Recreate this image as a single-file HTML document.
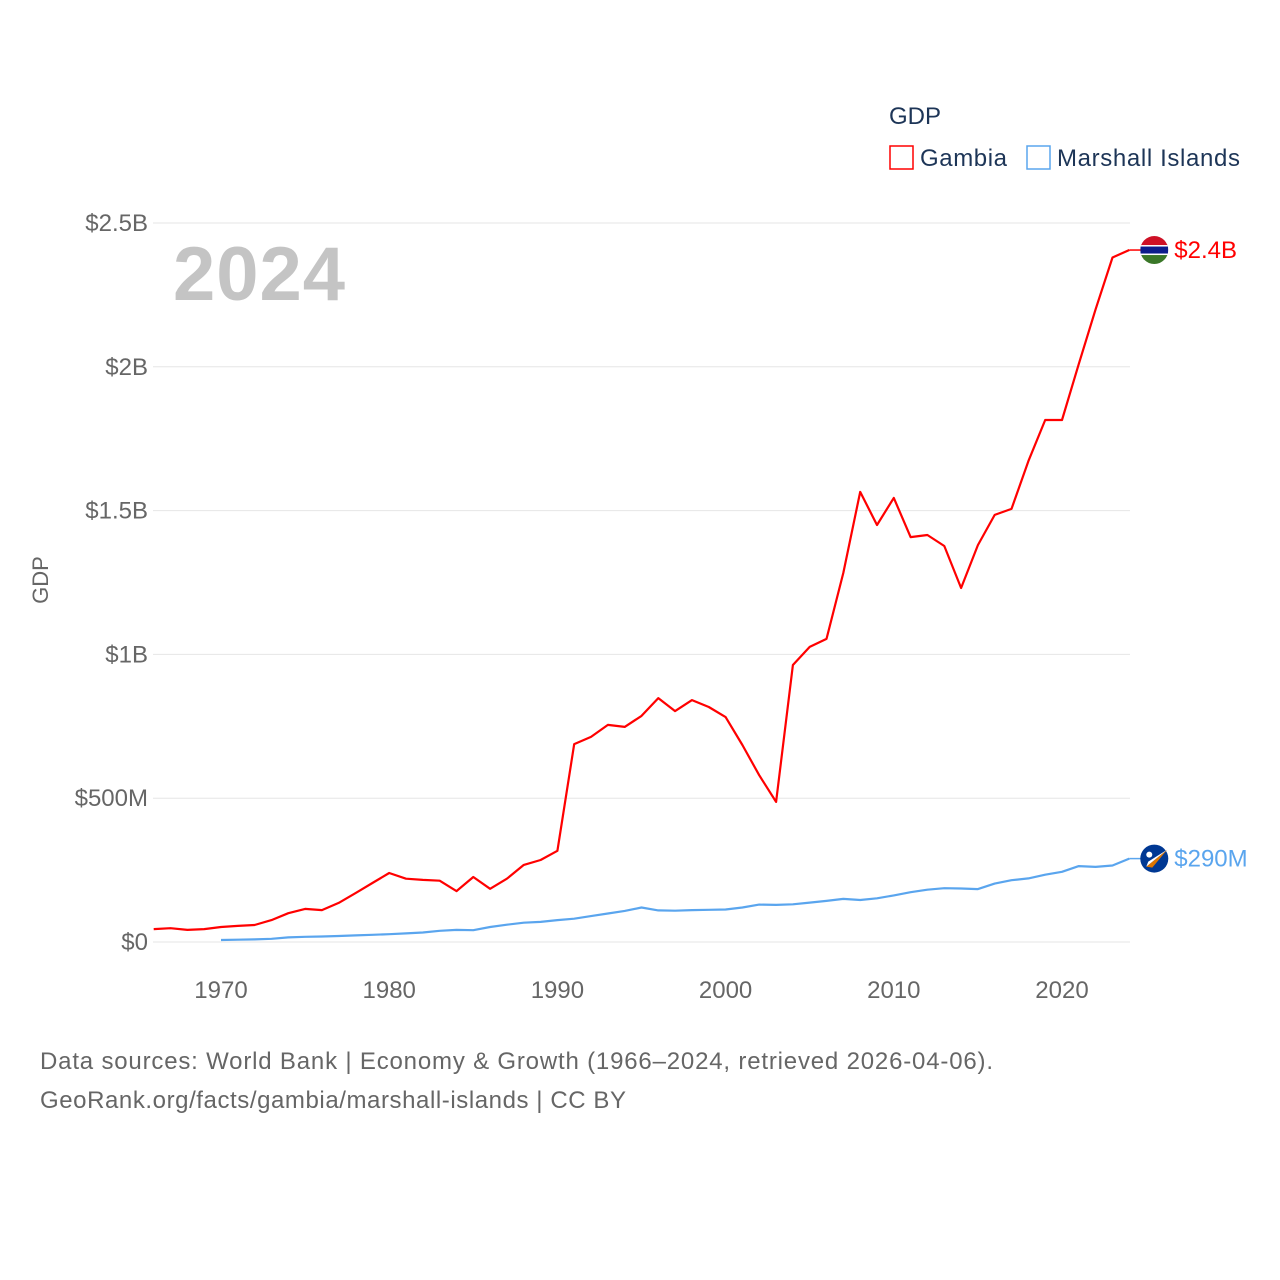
<!DOCTYPE html>
<html><head><meta charset="utf-8"><style>
body{margin:0;background:#fff;}
svg{display:block;font-family:"Liberation Sans",sans-serif;}
</style></head><body>
<svg id="chart" width="1280" height="1280" viewBox="0 0 1280 1280">
<g id="grid"></g>
<g id="yticks"></g>
<g id="xticks"></g>
<text x="48" y="580" transform="rotate(-90 48 580)" text-anchor="middle" font-size="22" fill="#666">GDP</text>
<text x="173" y="300" font-size="76" font-weight="bold" fill="#c4c4c4" textLength="172">2024</text>
<g>
<text x="889" y="124" font-size="24" fill="#1d3557">GDP</text>
<g><rect x="890" y="146" width="23" height="23" fill="none" stroke="#ff0000" stroke-width="1.5"/><text x="920" y="166" font-size="24" fill="#1d3557" textLength="87">Gambia</text></g>
<g><rect x="1027" y="146" width="23" height="23" fill="none" stroke="#5aa5ee" stroke-width="1.5"/><text x="1057" y="166" font-size="24" fill="#1d3557" textLength="183">Marshall Islands</text></g>
</g>
<g id="series"></g>
<text x="40" y="1069" font-size="24" fill="#666" textLength="953">Data sources: World Bank | Economy &amp; Growth (1966–2024, retrieved 2026-04-06).</text>
<text x="40" y="1108" font-size="24" fill="#666" textLength="586">GeoRank.org/facts/gambia/marshall-islands | CC BY</text>
</svg>
<script>
const gambiaYears=[1966,1967,1968,1969,1970,1971,1972,1973,1974,1975,1976,1977,1978,1979,1980,1981,1982,1983,1984,1985,1986,1987,1988,1989,1990,1991,1992,1993,1994,1995,1996,1997,1998,1999,2000,2001,2002,2003,2004,2005,2006,2007,2008,2009,2010,2011,2012,2013,2014,2015,2016,2017,2018,2019,2020,2021,2022,2023,2024];
const gambiaGDP=[0.045,0.048,0.042,0.045,0.052,0.056,0.059,0.076,0.10,0.115,0.111,0.136,0.17,0.205,0.24,0.22,0.216,0.213,0.177,0.226,0.185,0.22,0.268,0.285,0.317,0.688,0.713,0.755,0.748,0.786,0.848,0.803,0.841,0.817,0.782,0.685,0.58,0.487,0.963,1.026,1.054,1.283,1.565,1.45,1.544,1.408,1.415,1.377,1.231,1.38,1.485,1.506,1.672,1.815,1.815,2.01,2.20,2.38,2.406];
const marshallYears=[1970,1971,1972,1973,1974,1975,1976,1977,1978,1979,1980,1981,1982,1983,1984,1985,1986,1987,1988,1989,1990,1991,1992,1993,1994,1995,1996,1997,1998,1999,2000,2001,2002,2003,2004,2005,2006,2007,2008,2009,2010,2011,2012,2013,2014,2015,2016,2017,2018,2019,2020,2021,2022,2023,2024];
const marshallGDP=[0.007,0.008,0.009,0.011,0.016,0.018,0.019,0.021,0.023,0.025,0.027,0.030,0.033,0.039,0.042,0.041,0.052,0.060,0.067,0.070,0.076,0.081,0.090,0.099,0.108,0.120,0.110,0.109,0.111,0.112,0.113,0.120,0.130,0.129,0.131,0.137,0.143,0.150,0.146,0.152,0.162,0.173,0.182,0.187,0.186,0.184,0.203,0.215,0.221,0.234,0.244,0.264,0.261,0.266,0.29];
const yTickVals=[0,0.5,1,1.5,2,2.5];
const yTickLabels=["$0","$500M","$1B","$1.5B","$2B","$2.5B"];
const xTickVals=[1970,1980,1990,2000,2010,2020];
const endLabels=["$2.4B","$290M"];

const NS="http://www.w3.org/2000/svg";
const X=yr=>221+(yr-1970)*16.82;
const Y=v=>942-v*287.6;
function mk(tag,attrs,parent){const e=document.createElementNS(NS,tag);for(const k in attrs)e.setAttribute(k,attrs[k]);parent.appendChild(e);return e;}
const grid=document.getElementById('grid'),yt=document.getElementById('yticks'),xt=document.getElementById('xticks'),ser=document.getElementById('series');
yTickVals.forEach((v,i)=>{
  const l=mk('line',{x1:153,x2:1130,y1:Y(v),y2:Y(v),stroke:'#e6e6e6','stroke-width':1},grid);
  
  
  const t=mk('text',{x:148,y:Y(v)+8,'text-anchor':'end','font-size':24,fill:'#666'},yt);
  t.textContent=yTickLabels[i];
  
  
});
xTickVals.forEach(yr=>{
  const t=mk('text',{x:X(yr),y:998,'text-anchor':'middle','font-size':24,fill:'#666'},xt);
  t.textContent=yr;
  
  
});
function line(years,vals,color,name,label,flag){
  const d=years.map((yr,i)=>(i?'L':'M')+X(yr).toFixed(1)+','+Y(vals[i]).toFixed(1)).join('');
  const p=mk('path',{d:d,fill:'none',stroke:color,'stroke-width':2.2,'stroke-linejoin':'round'},ser);
  
  
  const lx=X(years[years.length-1]),ly=Y(vals[vals.length-1]);
  mk('line',{x1:lx,x2:lx+14,y1:ly,y2:ly,stroke:color,'stroke-width':1.5},ser);
  const g=mk('g',{},ser);
  
  
  const cx=lx+25;
  if(flag==='gm'){
    mk('clipPath',{id:'cg'},g).appendChild(document.createElementNS(NS,'circle'));
    const c=g.querySelector('#cg circle');c.setAttribute('cx',cx);c.setAttribute('cy',ly);c.setAttribute('r',14);
    const gg=mk('g',{'clip-path':'url(#cg)'},g);
    mk('rect',{x:cx-14,y:ly-14,width:28,height:10,fill:'#ce1126'},gg);
    mk('rect',{x:cx-14,y:ly-4,width:28,height:8,fill:'#0c1c8c'},gg);
    mk('rect',{x:cx-14,y:ly-5,width:28,height:1.5,fill:'#fff'},gg);
    mk('rect',{x:cx-14,y:ly+3.5,width:28,height:1.5,fill:'#fff'},gg);
    mk('rect',{x:cx-14,y:ly+5,width:28,height:10,fill:'#3a7728'},gg);
  } else {
    mk('circle',{cx:cx,cy:ly,r:14,fill:'#003893'},g);
    mk('path',{d:`M${cx-8},${ly+8}L${cx+13},${ly-9}L${cx-2},${ly+9}Z`,fill:'#dd7500'},g);
    mk('path',{d:`M${cx-8},${ly+8}L${cx+13},${ly-9}L${cx-6},${ly+3}Z`,fill:'#fff'},g);
    mk('circle',{cx:cx-5,cy:ly-4,r:3,fill:'#fff'},g);
  }
  const t=mk('text',{x:lx+45,y:ly+8,'font-size':24,fill:color},ser);
  t.textContent=label;
  
  
}
line(marshallYears,marshallGDP,'#5aa5ee','marshall-islands',endLabels[1],'mh');
line(gambiaYears,gambiaGDP,'#ff0000','gambia',endLabels[0],'gm');
</script>
</body></html>
